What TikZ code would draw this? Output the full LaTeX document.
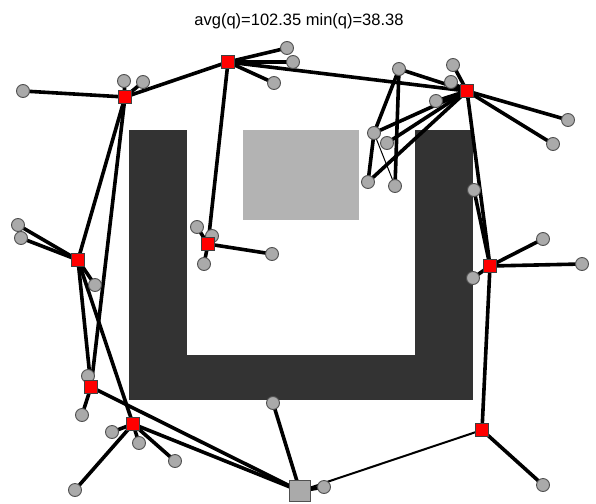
\documentclass[tikz,border=0pt]{standalone}
\usepackage{fontspec}
\setmainfont{Liberation Sans}
\pgfdeclarelayer{bg}
\pgfdeclarelayer{edges}
\pgfsetlayers{bg,edges,main}
\definecolor{wall}{HTML}{333333}
\definecolor{zone}{HTML}{B3B3B3}
\definecolor{nodegray}{HTML}{AAAAAA}
\definecolor{rimgray}{HTML}{505050}
\tikzset{
  sens/.style={circle, fill=nodegray, draw=rimgray, line width=0.9pt, minimum size=13pt, inner sep=0pt},
  head/.style={rectangle, fill=red, draw=black!75, line width=0.8pt, minimum size=12.5pt, inner sep=0pt},
  sink/.style={rectangle, fill=nodegray, draw=rimgray, line width=0.9pt, minimum size=21pt, inner sep=0pt},
  link/.style={line width=3.6pt, black},
  weak/.style={line width=2pt, black},
  faint/.style={line width=1pt, black}
}
\begin{document}
\begin{tikzpicture}[x=1pt,y=-1pt]
\useasboundingbox (0,0) rectangle (596,503);

% obstacles
\begin{pgfonlayer}{bg}
  \fill[white] (0,0) rectangle (596,503);
  \fill[wall] (129,130) rectangle (187,400);
  \fill[wall] (129,355) rectangle (473,400);
  \fill[wall] (415,130) rectangle (473,400);
  \fill[zone] (243,130) rectangle (359,220);
\end{pgfonlayer}

\node[anchor=base, font=\fontsize{16.5}{18}\selectfont] (title) at (299,26) {avg(q)=102.35 min(q)=38.38};

% plain sensors
\node[sens] (c1) at (23,91) {};
\node[sens] (c2) at (124,81) {};
\node[sens] (c3) at (143,82) {};
\node[sens] (c4) at (287,48) {};
\node[sens] (c5) at (293,62) {};
\node[sens] (c6) at (274,83) {};
\node[sens] (c7) at (399,69) {};
\node[sens] (c8) at (453,65) {};
\node[sens] (c9) at (451,82) {};
\node[sens] (c10) at (436,101) {};
\node[sens] (c11) at (374,133) {};
\node[sens] (c12) at (387,143) {};
\node[sens] (c13) at (368,182) {};
\node[sens] (c14) at (395,186) {};
\node[sens] (c15) at (568,120) {};
\node[sens] (c16) at (553,144) {};
\node[sens] (c17) at (197,227) {};
\node[sens] (c18) at (212,236) {};
\node[sens] (c19) at (204,264) {};
\node[sens] (c20) at (272,254) {};
\node[sens] (c21) at (18,225) {};
\node[sens] (c22) at (21,238) {};
\node[sens] (c23) at (95,285) {};
\node[sens] (c24) at (543,239) {};
\node[sens] (c25) at (582,264) {};
\node[sens] (c26) at (473,278) {};
\node[sens] (c27) at (474,190) {};
\node[sens] (c28) at (88,376) {};
\node[sens] (c29) at (82,415) {};
\node[sens] (c30) at (112,432) {};
\node[sens] (c31) at (139,443) {};
\node[sens] (c32) at (175,461) {};
\node[sens] (c33) at (75,490) {};
\node[sens] (c34) at (273,403) {};
\node[sens] (c35) at (324,487) {};
\node[sens] (c36) at (543,485) {};

% cluster heads and sink, above the sensors
\node[head] (r1) at (125,97) {};
\node[head] (r2) at (228,62) {};
\node[head] (r3) at (467,91) {};
\node[head] (r4) at (208,244) {};
\node[head] (r5) at (78,260) {};
\node[head] (r6) at (490,266) {};
\node[head] (r7) at (91,387) {};
\node[head] (r8) at (133,424) {};
\node[head] (r9) at (482,430) {};
\node[sink] (base) at (300,491) {};

% links
\begin{pgfonlayer}{edges}
  \foreach \a/\b in {r1/c1, r1/c2, r1/c3, r1/r2, r1/r5, r1/r7,
                     r2/c4, r2/c5, r2/c6, r2/r3, r2/r4,
                     r3/c7, r3/c8, r3/c9, r3/c10, r3/c11, r3/c12, r3/c13, r3/c15, r3/c16, r3/r6,
                     c7/c11, c7/c14, c11/c13,
                     r4/c17, r4/c18, r4/c19, r4/c20,
                     r5/c21, r5/c22, r5/c23, r5/r7, r5/r8,
                     r6/c24, r6/c25, r6/c26, r6/c27, r6/r9,
                     r7/c28, r7/c29, r7/base,
                     r8/c30, r8/c31, r8/c32, r8/c33, r8/base,
                     base/c34, base/c35, r9/c36}
    \draw[link] (\a.center) -- (\b.center);
  \draw[weak] (base.center) -- (r9.center);
  \draw[faint] (c11.center) -- (c14.center);
\end{pgfonlayer}
\end{tikzpicture}
\end{document}
